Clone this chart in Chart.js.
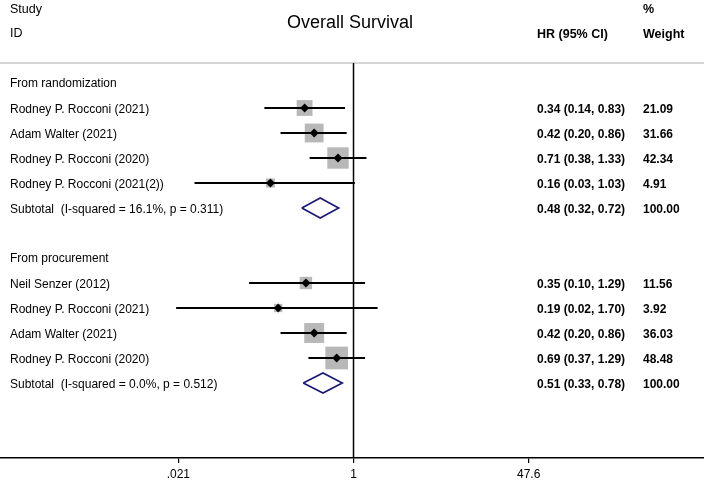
<!DOCTYPE html>
<html>
<head>
<meta charset="utf-8">
<script src="https://cdn.jsdelivr.net/npm/chart.js@4"></script>
<style>
  body { margin: 0; background: #fff; }
  canvas { display: block; }
</style>
</head>
<body>
<canvas id="forest" width="704" height="484"></canvas>
<script>
// study rows
var studyLabels = ["Rodney P. Rocconi (2021)", "Adam Walter (2021)", "Rodney P. Rocconi (2020)", "Rodney P. Rocconi (2021(2))",
    "Neil Senzer (2012)", "Rodney P. Rocconi (2021)", "Adam Walter (2021)", "Rodney P. Rocconi (2020)"];
var studyRows = [1, 2, 3, 4, 8, 9, 10, 11];
var hr = [0.34, 0.42, 0.71, 0.16, 0.35, 0.19, 0.42, 0.69];
var lower = [0.14, 0.20, 0.38, 0.03, 0.10, 0.02, 0.20, 0.37];
var upper = [0.83, 0.86, 1.33, 1.03, 1.29, 1.70, 0.86, 1.29];
var weights = [21.09, 31.66, 42.34, 4.91, 11.56, 3.92, 36.03, 48.48];

// groups and pooled estimates
var groupLabels = ["From randomization", "From procurement"];
var groupRows = [0, 7];
var subtotalLabels = ["Subtotal  (I-squared = 16.1%, p = 0.311)", "Subtotal  (I-squared = 0.0%, p = 0.512)"];
var subtotalRows = [5, 12];
var subHr = [0.48, 0.51];
var subLower = [0.32, 0.33];
var subUpper = [0.72, 0.78];
var subWeights = [100, 100];

// axis
var tickValues = [0.021, 1, 47.6];
var tickLabels = [".021", "1", "47.6"];

var xMin = 0.000411, xMax = 2276;
var yMin = -3.32, yMax = 15.0;
var lineRow = -0.8;
var FONT = "'Liberation Sans', Arial, Helvetica, sans-serif";

function ciText(e, l, u) {
    return e.toFixed(2) + " (" + l.toFixed(2) + ", " + u.toFixed(2) + ")";
}

var datasets = [];

// gray weight boxes
datasets.push({
    data: hr.map(function (v, i) { return { x: v, y: studyRows[i] }; }),
    pointStyle: 'rect',
    pointRadius: weights.map(function (w) { return (2.5 + 2.9 * Math.sqrt(w)) / Math.SQRT2; }),
    backgroundColor: '#b8b8b8',
    borderWidth: 0,
    order: 4
});

// confidence intervals
for (var i = 0; i < hr.length; i++) {
    datasets.push({
        data: [{ x: lower[i], y: studyRows[i] }, { x: upper[i], y: studyRows[i] }],
        showLine: true,
        borderColor: '#000',
        borderWidth: 1.8,
        pointRadius: 0,
        order: 3
    });
}

// point estimates
datasets.push({
    data: hr.map(function (v, i) { return { x: v, y: studyRows[i] }; }),
    pointStyle: 'rectRot',
    pointRadius: 4.5,
    backgroundColor: '#000',
    borderWidth: 0,
    order: 1
});

// pooled diamonds
for (var j = 0; j < subHr.length; j++) {
    var r = subtotalRows[j];
    datasets.push({
        data: [
            { x: subLower[j], y: r }, { x: subHr[j], y: r - 0.4 },
            { x: subUpper[j], y: r }, { x: subHr[j], y: r + 0.4 },
            { x: subLower[j], y: r }
        ],
        showLine: true,
        borderColor: '#1b1b75',
        borderWidth: 1.7,
        pointRadius: 0,
        order: 1
    });
}

// null line and header rule
datasets.push({
    data: [{ x: 1, y: lineRow }, { x: 1, y: yMax }],
    showLine: true,
    borderColor: '#000',
    borderWidth: 1.5,
    pointRadius: 0,
    order: 5
});
datasets.push({
    data: [{ x: xMin, y: lineRow }, { x: xMax, y: lineRow }],
    showLine: true,
    borderColor: '#c8c8c8',
    borderWidth: 1.5,
    pointRadius: 0,
    order: 6
});

var textPlugin = {
    id: 'forestText',
    afterDraw: function (chart) {
        var ctx = chart.ctx;
        var ys = chart.scales.y;
        var colHr = 537, colW = 643, colLabel = 10;
        ctx.save();
        ctx.fillStyle = '#000';
        ctx.textBaseline = 'middle';
        ctx.textAlign = 'left';

        ctx.font = '12.5px ' + FONT;
        ctx.fillText("Study", colLabel, 10);
        ctx.fillText("ID", colLabel, 34);
        ctx.font = 'bold 12.5px ' + FONT;
        ctx.fillText("HR (95% CI)", colHr, 35);
        ctx.fillText("%", colW, 10);
        ctx.fillText("Weight", colW, 35);

        ctx.textAlign = 'center';
        ctx.font = '18px ' + FONT;
        ctx.fillText("Overall Survival", 350, 23);
        ctx.textAlign = 'left';

        ctx.font = '12px ' + FONT;
        groupLabels.forEach(function (t, k) {
            ctx.fillText(t, colLabel, ys.getPixelForValue(groupRows[k]) + 1);
        });
        studyLabels.forEach(function (t, k) {
            ctx.fillText(t, colLabel, ys.getPixelForValue(studyRows[k]) + 1.5);
        });
        subtotalLabels.forEach(function (t, k) {
            ctx.fillText(t, colLabel, ys.getPixelForValue(subtotalRows[k]) + 1.5);
        });

        ctx.font = 'bold 12px ' + FONT;
        hr.forEach(function (e, k) {
            var py = ys.getPixelForValue(studyRows[k]) + 1.5;
            ctx.fillText(ciText(e, lower[k], upper[k]), colHr, py);
            ctx.fillText(weights[k].toFixed(2), colW, py);
        });
        subHr.forEach(function (e, k) {
            var py = ys.getPixelForValue(subtotalRows[k]) + 1.5;
            ctx.fillText(ciText(e, subLower[k], subUpper[k]), colHr, py);
            ctx.fillText(subWeights[k].toFixed(2), colW, py);
        });
        ctx.restore();
    }
};

var forestChart = new Chart(document.getElementById('forest').getContext('2d'), {
    type: 'scatter',
    data: { datasets: datasets },
    options: {
        responsive: false,
        animation: false,
        events: [],
        layout: { padding: 0, autoPadding: false },
        plugins: {
            legend: { display: false },
            tooltip: { enabled: false }
        },
        scales: {
            x: {
                type: 'logarithmic',
                position: 'bottom',
                min: xMin,
                max: xMax,
                afterBuildTicks: function (s) {
                    s.ticks = tickValues.map(function (v) { return { value: v }; });
                },
                afterFit: function (s) { s.height = 26; },
                border: { display: true, color: '#000', width: 1.5 },
                grid: { display: true, drawOnChartArea: false, drawTicks: true, tickLength: 5, color: '#000', lineWidth: 1.2 },
                ticks: {
                    autoSkip: false,
                    maxRotation: 0,
                    padding: 4,
                    color: '#000',
                    font: { family: FONT, size: 12 },
                    callback: function (v, idx) { return tickLabels[idx]; }
                }
            },
            y: {
                type: 'linear',
                display: false,
                reverse: true,
                min: yMin,
                max: yMax
            }
        }
    },
    plugins: [textPlugin]
});
</script>
</body>
</html>
